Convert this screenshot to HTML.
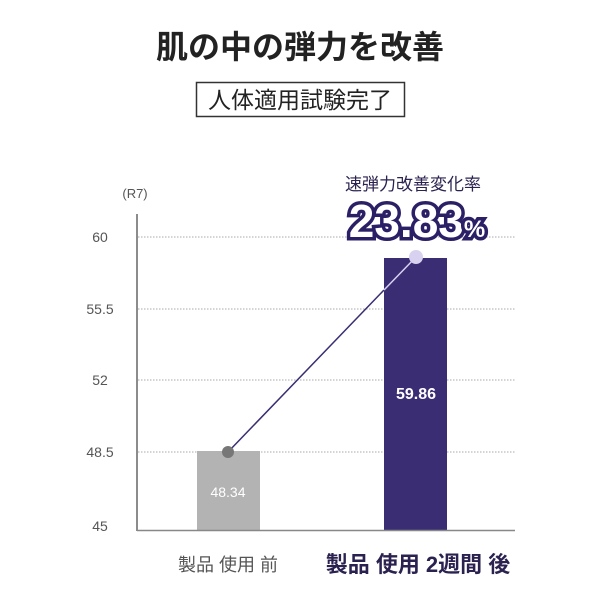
<!DOCTYPE html>
<html><head><meta charset="utf-8"><style>
body{margin:0;background:#fff;width:600px;height:600px;overflow:hidden;font-family:"Liberation Sans","Noto Sans CJK JP",sans-serif}
</style></head><body>
<svg width="600" height="600" xmlns="http://www.w3.org/2000/svg" font-family="Liberation Sans, Noto Sans CJK JP, sans-serif">
<text x="300" y="58" text-anchor="middle" font-size="32" font-weight="bold" fill="#222">肌の中の弾力を改善</text>
<rect x="196.5" y="82.5" width="208" height="34" fill="#fff" stroke="#333" stroke-width="1.5"/>
<text x="300" y="108" text-anchor="middle" font-size="23" fill="#222">人体適用試験完了</text>
<text x="135" y="198" text-anchor="middle" font-size="13" fill="#555">(R7)</text>
<g font-size="14" fill="#555" text-anchor="middle">
<text x="100" y="242">60</text><text x="100" y="314">55.5</text><text x="100" y="385">52</text><text x="100" y="457">48.5</text><text x="100" y="531">45</text></g>
<g stroke="#aaa" stroke-width="1" stroke-dasharray="1.5,1.5">
<line x1="138" y1="237" x2="515" y2="237"/><line x1="138" y1="309" x2="515" y2="309"/><line x1="138" y1="380" x2="515" y2="380"/><line x1="138" y1="452" x2="515" y2="452"/></g>
<rect x="197" y="451" width="63" height="79" fill="#b3b3b3"/>
<rect x="384" y="258" width="63" height="272" fill="#3b2d73"/>
<line x1="137" y1="214" x2="137" y2="531" stroke="#666" stroke-width="1.5"/>
<line x1="137" y1="530.5" x2="515" y2="530.5" stroke="#888" stroke-width="1.5"/>
<line x1="228" y1="452" x2="384" y2="290" stroke="#3b2d73" stroke-width="1.5"/>
<line x1="384" y1="290" x2="416" y2="257" stroke="#d8d2f0" stroke-width="1.5"/>
<circle cx="228" cy="452" r="6" fill="#777"/>
<circle cx="416" cy="257" r="7" fill="#d8d2f0"/>
<text x="228" y="497" text-anchor="middle" font-size="14" fill="#fff">48.34</text>
<text x="416" y="399" text-anchor="middle" font-size="16" font-weight="bold" fill="#fff">59.86</text>
<text x="413" y="190" text-anchor="middle" font-size="17" fill="#2b2250">速弾力改善変化率</text>
<text x="417" y="237" text-anchor="middle" font-size="46" font-weight="bold" fill="#fff" stroke="#2b1f66" stroke-width="7" paint-order="stroke">23.83<tspan font-size="24">%</tspan></text>
<text x="228" y="571" text-anchor="middle" font-size="18" fill="#555">製品 使用 前</text>
<text x="418" y="572" text-anchor="middle" font-size="22" font-weight="bold" fill="#2b2250">製品 使用 2週間 後</text>
</svg>
</body></html>
